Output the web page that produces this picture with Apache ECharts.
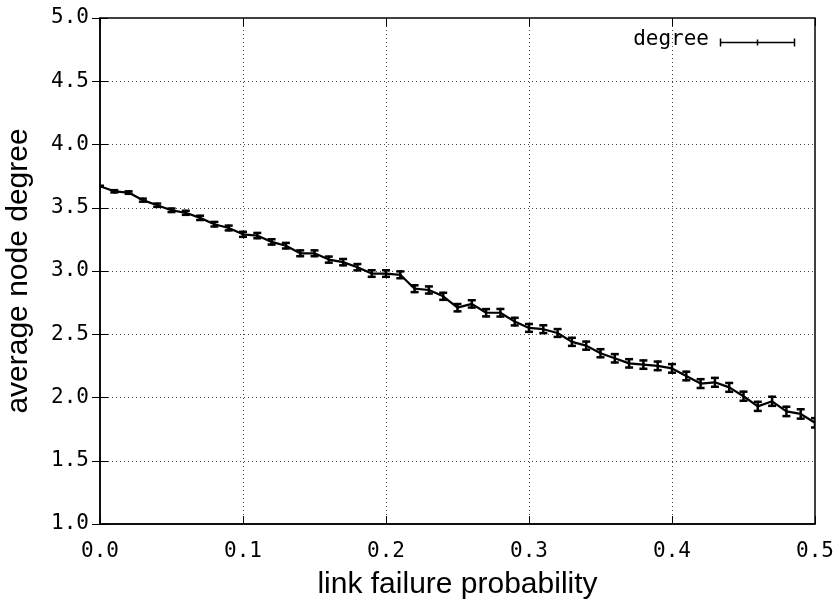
<!DOCTYPE html>
<html><head><meta charset="utf-8">
<script src="https://cdn.jsdelivr.net/npm/echarts@6/dist/echarts.min.js"></script>
<style>html,body{margin:0;padding:0;background:#fff}#c{width:838px;height:606px}</style>
</head><body><div id="c"></div>
<script>
const xValues = [0.00,0.01,0.02,0.03,0.04,0.05,0.06,0.07,0.08,0.09,
  0.10,0.11,0.12,0.13,0.14,0.15,0.16,0.17,0.18,0.19,
  0.20,0.21,0.22,0.23,0.24,0.25,0.26,0.27,0.28,0.29,
  0.30,0.31,0.32,0.33,0.34,0.35,0.36,0.37,0.38,0.39,
  0.40,0.41,0.42,0.43,0.44,0.45,0.46,0.47,0.48,0.49,0.50];
const degree = [3.67,3.63,3.62,3.56,3.52,3.48,3.46,3.42,3.37,3.34,
  3.29,3.28,3.23,3.20,3.14,3.14,3.09,3.07,3.03,2.98,
  2.98,2.97,2.86,2.85,2.80,2.71,2.74,2.67,2.67,2.60,
  2.55,2.54,2.51,2.44,2.41,2.35,2.31,2.27,2.26,2.25,
  2.23,2.17,2.11,2.12,2.08,2.01,1.93,1.97,1.89,1.87,1.80];
const degreeErr = [0.004,0.009,0.01,0.012,0.013,0.014,0.016,0.017,0.018,0.019,
  0.02,0.021,0.021,0.022,0.023,0.023,0.024,0.025,0.025,0.026,
  0.026,0.027,0.027,0.028,0.028,0.029,0.029,0.029,0.03,0.03,
  0.031,0.031,0.031,0.032,0.032,0.032,0.033,0.033,0.033,0.034,
  0.034,0.034,0.035,0.035,0.035,0.036,0.036,0.036,0.037,0.037,0.037];

const mono = '"DejaVu Sans Mono", monospace';
const sans = '"Liberation Sans", Arial, sans-serif';
const lineData = xValues.map((x,i)=>[x,degree[i]]);
const errData = xValues.map((x,i)=>[x,degree[i]-degreeErr[i],degree[i]+degreeErr[i]]);

const chart = echarts.init(document.getElementById('c'));
chart.setOption({
  animation:false,
  grid:{left:100,right:23,top:18,bottom:82,containLabel:false,outerBoundsMode:'none',
    show:true,borderColor:'#000',borderWidth:1.5},
  xAxis:[{type:'value',min:0,max:0.5,interval:0.1,position:'bottom',
    name:'link failure probability',nameLocation:'middle',nameGap:46,
    nameTextStyle:{fontFamily:sans,fontSize:30,color:'#000'},
    axisLine:{show:true,lineStyle:{color:'#000',width:1.5}},
    axisTick:{show:true,inside:true,length:8,lineStyle:{color:'#000'}},
    axisLabel:{margin:17,fontFamily:mono,fontSize:21,color:'#000',formatter:v=>v.toFixed(1)},
    splitLine:{show:true,lineStyle:{color:'#444',width:1,type:[1,3]}}},
   {type:'value',min:0,max:0.5,interval:0.1,position:'top',
    axisLine:{show:false},axisTick:{show:true,inside:true,length:8,lineStyle:{color:'#000'}},
    axisLabel:{show:false},splitLine:{show:false}}],
  yAxis:[{type:'value',min:1,max:5,interval:0.5,position:'left',
    name:'average node degree',nameLocation:'middle',nameGap:66,
    nameTextStyle:{fontFamily:sans,fontSize:30,color:'#000'},
    axisLine:{show:true,lineStyle:{color:'#000',width:1.5}},
    axisTick:{show:true,inside:true,length:8,lineStyle:{color:'#000'}},
    axisLabel:{margin:11,fontFamily:mono,fontSize:21,color:'#000',formatter:v=>v.toFixed(1)},
    splitLine:{show:true,lineStyle:{color:'#444',width:1,type:[1,3]}}},
   {type:'value',min:1,max:5,interval:0.5,position:'right',
    axisLine:{show:false},axisTick:{show:true,inside:true,length:8,lineStyle:{color:'#000'}},
    axisLabel:{show:false},splitLine:{show:false}}],
  series:[
    {type:'line',data:lineData,symbol:'none',lineStyle:{color:'#000',width:2.2},clip:true,z:3},
    {type:'custom',data:errData,z:4,clip:true,
     renderItem:function(params,api){
       const x=api.value(0);
       const lo=api.coord([x,api.value(1)]);
       const hi=api.coord([x,api.value(2)]);
       const w=4;
       const st={stroke:'#000',lineWidth:2.5};
       return {type:'group',children:[
         {type:'line',shape:{x1:lo[0],y1:lo[1]+1,x2:hi[0],y2:hi[1]-1},style:st},
         {type:'line',shape:{x1:lo[0]-w,y1:lo[1],x2:lo[0]+w,y2:lo[1]},style:st},
         {type:'line',shape:{x1:hi[0]-w,y1:hi[1],x2:hi[0]+w,y2:hi[1]},style:st}
       ]};
     }}
  ],
  graphic:[
    {type:'text',right:129,top:29,style:{text:'degree',fontFamily:mono,fontSize:21,fill:'#000'}},
    {type:'group',left:718,top:36,children:[
      {type:'line',shape:{x1:0,y1:5,x2:74,y2:5},style:{stroke:'#000',lineWidth:1.5}},
      {type:'line',shape:{x1:0,y1:1,x2:0,y2:9},style:{stroke:'#000',lineWidth:1.5}},
      {type:'line',shape:{x1:74,y1:1,x2:74,y2:9},style:{stroke:'#000',lineWidth:1.5}},
      {type:'line',shape:{x1:37,y1:2,x2:37,y2:8},style:{stroke:'#000',lineWidth:1.5}}
    ]}
  ]
});
</script></body></html>
